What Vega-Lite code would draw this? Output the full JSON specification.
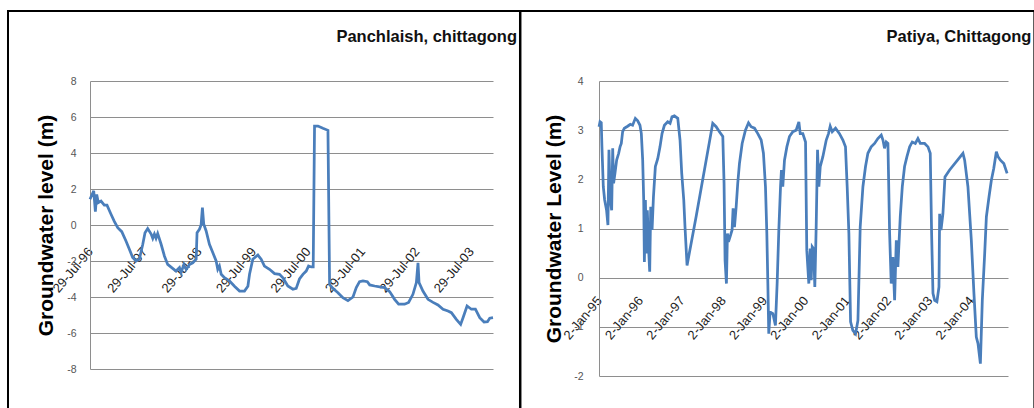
{
  "$schema": "https://vega.github.io/schema/vega-lite/v6.json",
  "padding": {"left": 6, "top": 9, "right": 0, "bottom": 0},
  "spacing": 106,
  "bounds": "flush",
  "config": {
    "font": "Liberation Sans",
    "view": {"stroke": null},
    "axis": {"gridColor": "#8e8e8e", "gridWidth": 1, "domainColor": "#8e8e8e", "labelFont": "Liberation Sans"}
  },
  "hconcat": [
    {
      "width": 403,
      "height": 288,
      "title": {"text": "Panchlaish, chittagong", "anchor": "end", "offset": -36, "dx": -4, "fontSize": 16.5, "fontWeight": "bold", "color": "#111111"},
      "encoding": {
        "x": {
          "field": "date", "type": "temporal",
          "scale": {"type": "utc", "domain": [{"year": 1996, "month": 7, "date": 29, "utc": true}, {"year": 2003, "month": 12, "date": 23, "utc": true}]},
          "axis": {
            "title": null, "grid": false, "domain": false, "ticks": false,
            "values": [
              {"year": 1996, "month": 7, "date": 29, "utc": true},
              {"year": 1997, "month": 7, "date": 29, "utc": true},
              {"year": 1998, "month": 7, "date": 29, "utc": true},
              {"year": 1999, "month": 7, "date": 29, "utc": true},
              {"year": 2000, "month": 7, "date": 29, "utc": true},
              {"year": 2001, "month": 7, "date": 29, "utc": true},
              {"year": 2002, "month": 7, "date": 29, "utc": true},
              {"year": 2003, "month": 7, "date": 29, "utc": true}
            ],
            "format": "%d-%b-%y", "labelAngle": -50, "labelFontSize": 13, "labelColor": "#222222",
            "labelPadding": 0, "offset": -120, "labelFlush": false, "labelOverlap": false
          }
        },
        "y": {
          "field": "level", "type": "quantitative",
          "scale": {"domain": [-8, 8], "nice": false, "zero": false},
          "axis": {
            "title": "Groundwater level (m)", "titleFontSize": 21, "titleFontWeight": "bold", "titleColor": "#000000", "titlePadding": 10,
            "values": [-8, -6, -4, -2, 0, 2, 4, 6, 8], "labelExpr": "'' + datum.value", "ticks": false, "labelPadding": 14, "labelFontSize": 10.5, "labelColor": "#555555"
          }
        }
      },
      "layer": [
        {
          "data": {"values": [{"date": "1995-01-26", "date2": "2004-06-21", "level": 11.89, "level2": -12}]},
          "mark": {"type": "rect", "filled": false, "fill": null, "stroke": "#000000", "strokeWidth": 2},
          "encoding": {"x2": {"field": "date2"}, "y2": {"field": "level2"}}
        },
        {
          "data": {"values": [
            {"date": "1996-07-29", "level": 1.43}, {"date": "1996-08-23", "level": 1.9}, {"date": "1996-09-03", "level": 0.74},
            {"date": "1996-09-12", "level": 1.7}, {"date": "1996-09-23", "level": 1.24}, {"date": "1996-10-11", "level": 1.33},
            {"date": "1996-11-02", "level": 1.1}, {"date": "1996-11-20", "level": 1.1}, {"date": "1996-12-17", "level": 0.6},
            {"date": "1997-01-08", "level": 0.2}, {"date": "1997-01-31", "level": -0.15}, {"date": "1997-02-27", "level": -0.37},
            {"date": "1997-03-28", "level": -0.9}, {"date": "1997-04-19", "level": -1.35}, {"date": "1997-05-11", "level": -1.8},
            {"date": "1997-06-03", "level": -2.0}, {"date": "1997-06-25", "level": -1.9}, {"date": "1997-07-18", "level": -1.07},
            {"date": "1997-08-02", "level": -0.43}, {"date": "1997-08-20", "level": -0.2}, {"date": "1997-09-12", "level": -0.5},
            {"date": "1997-09-23", "level": -0.74}, {"date": "1997-10-04", "level": -0.5}, {"date": "1997-10-15", "level": -0.74},
            {"date": "1997-10-26", "level": -0.48}, {"date": "1997-11-18", "level": -1.07}, {"date": "1997-12-10", "level": -1.72},
            {"date": "1998-01-01", "level": -2.19}, {"date": "1998-01-28", "level": -2.37}, {"date": "1998-02-26", "level": -2.56},
            {"date": "1998-03-21", "level": -2.37}, {"date": "1998-04-01", "level": -2.65}, {"date": "1998-04-19", "level": -2.2},
            {"date": "1998-05-05", "level": -2.46}, {"date": "1998-05-27", "level": -2.2}, {"date": "1998-06-18", "level": -2.1},
            {"date": "1998-07-11", "level": -1.9}, {"date": "1998-07-17", "level": -0.43}, {"date": "1998-08-02", "level": -0.24},
            {"date": "1998-08-13", "level": 0.0}, {"date": "1998-08-22", "level": 0.96}, {"date": "1998-08-31", "level": 0.04},
            {"date": "1998-09-16", "level": -0.33}, {"date": "1998-10-08", "level": -1.07}, {"date": "1998-10-31", "level": -1.54},
            {"date": "1998-11-22", "level": -2.0}, {"date": "1998-12-03", "level": -2.46}, {"date": "1998-12-14", "level": -2.28},
            {"date": "1998-12-26", "level": -2.74}, {"date": "1999-01-17", "level": -2.93}, {"date": "1999-02-19", "level": -3.1},
            {"date": "1999-03-25", "level": -3.4}, {"date": "1999-04-28", "level": -3.67}, {"date": "1999-05-31", "level": -3.67},
            {"date": "1999-06-23", "level": -3.4}, {"date": "1999-07-04", "level": -2.74}, {"date": "1999-07-26", "level": -1.9},
            {"date": "1999-08-29", "level": -1.67}, {"date": "1999-09-20", "level": -1.9}, {"date": "1999-10-12", "level": -2.28},
            {"date": "1999-11-15", "level": -2.46}, {"date": "1999-12-19", "level": -2.7}, {"date": "2000-01-21", "level": -2.74},
            {"date": "2000-02-13", "level": -2.93}, {"date": "2000-03-17", "level": -3.39}, {"date": "2000-04-20", "level": -3.57},
            {"date": "2000-05-12", "level": -3.52}, {"date": "2000-06-03", "level": -3.0}, {"date": "2000-06-26", "level": -2.74},
            {"date": "2000-07-18", "level": -2.56}, {"date": "2000-08-03", "level": -2.28}, {"date": "2000-08-21", "level": -2.33},
            {"date": "2000-09-03", "level": -2.33}, {"date": "2000-09-12", "level": 5.5}, {"date": "2000-10-05", "level": 5.5},
            {"date": "2000-11-07", "level": 5.37}, {"date": "2000-12-11", "level": 5.26}, {"date": "2000-12-22", "level": -3.3},
            {"date": "2001-01-13", "level": -3.52}, {"date": "2001-02-16", "level": -3.76}, {"date": "2001-03-21", "level": -4.04},
            {"date": "2001-04-24", "level": -4.2}, {"date": "2001-05-28", "level": -4.0}, {"date": "2001-06-19", "level": -3.48},
            {"date": "2001-07-11", "level": -3.15}, {"date": "2001-08-03", "level": -3.1}, {"date": "2001-09-01", "level": -3.15},
            {"date": "2001-09-17", "level": -3.33}, {"date": "2001-10-20", "level": -3.39}, {"date": "2001-11-23", "level": -3.44},
            {"date": "2001-12-26", "level": -3.48}, {"date": "2002-01-29", "level": -3.7}, {"date": "2002-03-03", "level": -4.13},
            {"date": "2002-03-30", "level": -4.4}, {"date": "2002-05-09", "level": -4.4}, {"date": "2002-06-05", "level": -4.3},
            {"date": "2002-07-04", "level": -3.85}, {"date": "2002-07-27", "level": -3.2}, {"date": "2002-08-07", "level": -2.1},
            {"date": "2002-08-14", "level": -3.2}, {"date": "2002-09-09", "level": -3.67}, {"date": "2002-10-13", "level": -4.13},
            {"date": "2002-11-16", "level": -4.3}, {"date": "2002-12-19", "level": -4.44}, {"date": "2003-01-22", "level": -4.68},
            {"date": "2003-02-24", "level": -4.78}, {"date": "2003-03-19", "level": -4.87}, {"date": "2003-04-21", "level": -5.24},
            {"date": "2003-05-20", "level": -5.52}, {"date": "2003-06-05", "level": -5.15}, {"date": "2003-07-02", "level": -4.5},
            {"date": "2003-07-31", "level": -4.68}, {"date": "2003-08-27", "level": -4.68}, {"date": "2003-09-25", "level": -5.15},
            {"date": "2003-10-24", "level": -5.39}, {"date": "2003-11-16", "level": -5.37}, {"date": "2003-12-01", "level": -5.18},
            {"date": "2003-12-23", "level": -5.15}
          ]},
          "mark": {"type": "line", "color": "#4a7ebb", "strokeWidth": 2.75}
        }
      ]
    },
    {
      "width": 409,
      "height": 295,
      "title": {"text": "Patiya, Chittagong", "anchor": "end", "offset": -36, "dx": -4, "fontSize": 16.5, "fontWeight": "bold", "color": "#111111"},
      "encoding": {
        "x": {
          "field": "date", "type": "temporal",
          "scale": {"type": "utc", "domain": [{"year": 1995, "month": 1, "date": 2, "utc": true}, {"year": 2004, "month": 11, "date": 24, "utc": true}]},
          "axis": {
            "title": null, "grid": false, "domain": false, "ticks": false,
            "values": [
              {"year": 1995, "month": 1, "date": 2, "utc": true},
              {"year": 1996, "month": 1, "date": 2, "utc": true},
              {"year": 1997, "month": 1, "date": 2, "utc": true},
              {"year": 1998, "month": 1, "date": 2, "utc": true},
              {"year": 1999, "month": 1, "date": 2, "utc": true},
              {"year": 2000, "month": 1, "date": 2, "utc": true},
              {"year": 2001, "month": 1, "date": 2, "utc": true},
              {"year": 2002, "month": 1, "date": 2, "utc": true},
              {"year": 2003, "month": 1, "date": 2, "utc": true},
              {"year": 2004, "month": 1, "date": 2, "utc": true}
            ],
            "format": "%-d-%b-%y", "labelAngle": -50, "labelFontSize": 13, "labelColor": "#222222",
            "labelPadding": 0, "offset": -78, "labelFlush": false, "labelOverlap": false
          }
        },
        "y": {
          "field": "level", "type": "quantitative",
          "scale": {"domain": [-2, 4], "nice": false, "zero": false},
          "axis": {
            "title": "Groundwater Level (m)", "titleFontSize": 21, "titleFontWeight": "bold", "titleColor": "#000000", "titlePadding": 9,
            "values": [-2, -1, 0, 1, 2, 3, 4], "labelExpr": "'' + datum.value", "ticks": false, "labelPadding": 16, "labelFontSize": 10.5, "labelColor": "#555555"
          }
        }
      },
      "layer": [
        {
          "data": {"values": [{"date": "1993-02-07", "date2": "2005-07-15", "level": 5.424, "level2": -3.5}]},
          "mark": {"type": "rect", "filled": false, "fill": null, "stroke": "#000000", "strokeWidth": 2},
          "encoding": {"x2": {"field": "date2"}, "y2": {"field": "level2"}}
        },
        {
          "data": {"values": [
            {"date": "1995-01-02", "level": 3.07}, {"date": "1995-01-11", "level": 3.17}, {"date": "1995-01-22", "level": 3.15},
            {"date": "1995-01-28", "level": 2.66}, {"date": "1995-02-09", "level": 1.85}, {"date": "1995-02-21", "level": 1.58},
            {"date": "1995-03-10", "level": 1.37}, {"date": "1995-03-22", "level": 1.07}, {"date": "1995-03-31", "level": 2.6},
            {"date": "1995-04-12", "level": 1.58}, {"date": "1995-04-24", "level": 1.37}, {"date": "1995-05-03", "level": 2.63},
            {"date": "1995-05-11", "level": 1.92}, {"date": "1995-05-23", "level": 2.12}, {"date": "1995-06-07", "level": 2.39},
            {"date": "1995-06-25", "level": 2.53}, {"date": "1995-07-07", "level": 2.66}, {"date": "1995-07-18", "level": 2.73},
            {"date": "1995-07-30", "level": 2.97}, {"date": "1995-08-14", "level": 3.04}, {"date": "1995-09-12", "level": 3.08},
            {"date": "1995-10-06", "level": 3.12}, {"date": "1995-10-26", "level": 3.1}, {"date": "1995-11-19", "level": 3.24},
            {"date": "1995-12-10", "level": 3.19}, {"date": "1995-12-30", "level": 3.1}, {"date": "1996-01-11", "level": 2.93},
            {"date": "1996-01-23", "level": 2.39}, {"date": "1996-02-01", "level": 1.58}, {"date": "1996-02-07", "level": 0.32},
            {"date": "1996-02-16", "level": 1.58}, {"date": "1996-02-25", "level": 0.49}, {"date": "1996-03-04", "level": 1.37},
            {"date": "1996-03-16", "level": 0.56}, {"date": "1996-03-25", "level": 0.12}, {"date": "1996-04-03", "level": 1.44},
            {"date": "1996-04-15", "level": 0.97}, {"date": "1996-04-27", "level": 1.64}, {"date": "1996-05-14", "level": 2.26},
            {"date": "1996-06-04", "level": 2.42}, {"date": "1996-06-24", "level": 2.66}, {"date": "1996-07-12", "level": 2.93},
            {"date": "1996-08-02", "level": 3.1}, {"date": "1996-08-31", "level": 3.17}, {"date": "1996-09-21", "level": 3.14},
            {"date": "1996-10-08", "level": 3.27}, {"date": "1996-10-29", "level": 3.29}, {"date": "1996-11-28", "level": 3.24},
            {"date": "1996-12-18", "level": 2.8}, {"date": "1997-01-02", "level": 2.12}, {"date": "1997-01-20", "level": 1.58},
            {"date": "1997-01-31", "level": 1.03}, {"date": "1997-02-18", "level": 0.25}, {"date": "1997-05-09", "level": 1.24},
            {"date": "1997-10-03", "level": 3.14}, {"date": "1997-11-02", "level": 3.07}, {"date": "1997-12-01", "level": 2.97},
            {"date": "1997-12-31", "level": 2.87}, {"date": "1998-01-11", "level": 1.92}, {"date": "1998-01-20", "level": 0.35},
            {"date": "1998-02-01", "level": -0.12}, {"date": "1998-02-10", "level": 0.9}, {"date": "1998-02-19", "level": 0.73},
            {"date": "1998-03-05", "level": 0.83}, {"date": "1998-03-23", "level": 0.97}, {"date": "1998-04-01", "level": 1.41},
            {"date": "1998-04-13", "level": 1.03}, {"date": "1998-04-28", "level": 1.44}, {"date": "1998-05-12", "level": 1.92},
            {"date": "1998-05-27", "level": 2.32}, {"date": "1998-06-20", "level": 2.73}, {"date": "1998-07-19", "level": 3.0},
            {"date": "1998-08-15", "level": 3.15}, {"date": "1998-09-07", "level": 3.07}, {"date": "1998-10-07", "level": 3.04},
            {"date": "1998-11-05", "level": 2.93}, {"date": "1998-12-05", "level": 2.8}, {"date": "1998-12-25", "level": 2.53},
            {"date": "1999-01-12", "level": 1.85}, {"date": "1999-01-24", "level": 0.9}, {"date": "1999-02-02", "level": -0.12},
            {"date": "1999-02-10", "level": -1.14}, {"date": "1999-02-22", "level": -0.7}, {"date": "1999-03-18", "level": -0.73},
            {"date": "1999-04-10", "level": -0.97}, {"date": "1999-04-25", "level": -0.12}, {"date": "1999-05-10", "level": 0.97},
            {"date": "1999-05-25", "level": 1.85}, {"date": "1999-06-02", "level": 2.19}, {"date": "1999-06-14", "level": 1.85},
            {"date": "1999-06-29", "level": 2.39}, {"date": "1999-07-20", "level": 2.66}, {"date": "1999-08-12", "level": 2.87},
            {"date": "1999-09-11", "level": 2.97}, {"date": "1999-10-10", "level": 3.0}, {"date": "1999-11-03", "level": 3.17},
            {"date": "1999-11-15", "level": 2.93}, {"date": "1999-12-08", "level": 2.93}, {"date": "2000-01-01", "level": 2.76},
            {"date": "2000-01-12", "level": 0.56}, {"date": "2000-01-21", "level": 0.22}, {"date": "2000-01-30", "level": -0.12},
            {"date": "2000-02-11", "level": 0.59}, {"date": "2000-02-20", "level": -0.05}, {"date": "2000-02-29", "level": 0.63},
            {"date": "2000-03-12", "level": 0.59}, {"date": "2000-03-23", "level": -0.19}, {"date": "2000-04-04", "level": 1.03},
            {"date": "2000-04-16", "level": 2.6}, {"date": "2000-04-28", "level": 1.85}, {"date": "2000-05-10", "level": 2.26},
            {"date": "2000-06-02", "level": 2.46}, {"date": "2000-07-02", "level": 2.8}, {"date": "2000-07-22", "level": 2.93},
            {"date": "2000-08-06", "level": 3.08}, {"date": "2000-08-24", "level": 2.97}, {"date": "2000-09-22", "level": 3.04},
            {"date": "2000-10-27", "level": 2.93}, {"date": "2000-11-26", "level": 2.8}, {"date": "2000-12-19", "level": 2.66},
            {"date": "2001-01-03", "level": 1.85}, {"date": "2001-01-18", "level": 0.9}, {"date": "2001-02-02", "level": -0.9},
            {"date": "2001-02-22", "level": -1.07}, {"date": "2001-03-18", "level": -1.14}, {"date": "2001-04-08", "level": -0.87},
            {"date": "2001-04-28", "level": 1.03}, {"date": "2001-05-22", "level": 1.85}, {"date": "2001-06-14", "level": 2.26},
            {"date": "2001-07-05", "level": 2.53}, {"date": "2001-08-03", "level": 2.66}, {"date": "2001-09-02", "level": 2.73},
            {"date": "2001-10-01", "level": 2.83}, {"date": "2001-10-31", "level": 2.9}, {"date": "2001-11-15", "level": 2.8},
            {"date": "2001-11-29", "level": 2.63}, {"date": "2001-12-14", "level": 2.76}, {"date": "2001-12-29", "level": 2.73},
            {"date": "2002-01-13", "level": 0.9}, {"date": "2002-01-27", "level": -0.12}, {"date": "2002-02-11", "level": 0.42},
            {"date": "2002-02-26", "level": -0.46}, {"date": "2002-03-13", "level": 0.76}, {"date": "2002-03-27", "level": 0.22},
            {"date": "2002-04-17", "level": 1.24}, {"date": "2002-05-05", "level": 1.85}, {"date": "2002-05-25", "level": 2.26},
            {"date": "2002-06-15", "level": 2.46}, {"date": "2002-07-09", "level": 2.66}, {"date": "2002-08-01", "level": 2.76},
            {"date": "2002-08-28", "level": 2.73}, {"date": "2002-09-20", "level": 2.83}, {"date": "2002-10-11", "level": 2.73},
            {"date": "2002-11-18", "level": 2.73}, {"date": "2002-12-18", "level": 2.66}, {"date": "2003-01-07", "level": 2.53},
            {"date": "2003-01-19", "level": 0.9}, {"date": "2003-01-31", "level": -0.32}, {"date": "2003-02-15", "level": -0.46},
            {"date": "2003-03-07", "level": -0.49}, {"date": "2003-03-25", "level": -0.19}, {"date": "2003-03-31", "level": 1.3},
            {"date": "2003-04-12", "level": 0.97}, {"date": "2003-04-29", "level": 1.3}, {"date": "2003-05-17", "level": 2.05},
            {"date": "2003-06-27", "level": 2.19}, {"date": "2003-10-23", "level": 2.53}, {"date": "2003-11-07", "level": 2.39},
            {"date": "2003-12-06", "level": 1.85}, {"date": "2004-01-05", "level": 0.76}, {"date": "2004-01-28", "level": -0.32},
            {"date": "2004-02-18", "level": -1.21}, {"date": "2004-03-04", "level": -1.34}, {"date": "2004-03-25", "level": -1.75},
            {"date": "2004-04-11", "level": -0.46}, {"date": "2004-05-02", "level": 0.49}, {"date": "2004-05-17", "level": 1.24},
            {"date": "2004-06-09", "level": 1.64}, {"date": "2004-06-30", "level": 1.98}, {"date": "2004-07-21", "level": 2.22},
            {"date": "2004-08-13", "level": 2.56}, {"date": "2004-08-28", "level": 2.46}, {"date": "2004-09-18", "level": 2.39},
            {"date": "2004-10-18", "level": 2.32}, {"date": "2004-11-16", "level": 2.12}
          ]},
          "mark": {"type": "line", "color": "#4a7ebb", "strokeWidth": 2.75}
        }
      ]
    }
  ]
}
